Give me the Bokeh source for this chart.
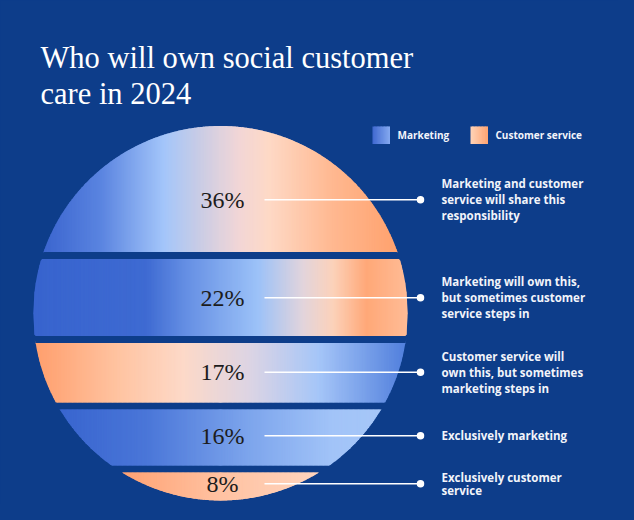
import numpy as np
from bokeh.plotting import figure
from bokeh.models import Range1d
from bokeh.embed import file_html
from bokeh.resources import INLINE
from bokeh.core.properties import value

# ---------------- data ----------------
title_lines = ["Who will own social customer", "care in 2024"]
shares = [36, 22, 17, 16, 8]
pct_labels = ["36%", "22%", "17%", "16%", "8%"]
descriptions = [
    ["Marketing and customer", "service will share this", "responsibility"],
    ["Marketing will own this,", "but sometimes customer", "service steps in"],
    ["Customer service will", "own this, but sometimes", "marketing steps in"],
    ["Exclusively marketing"],
    ["Exclusively customer", "service"],
]
legend_labels = ["Marketing", "Customer service"]

# ---------------- style ----------------
BG = "#0d3d8a"
WHITE = "#ffffff"
band_stops = [
    [(0.0, "#3660cc"), (0.18, "#5a84e0"), (0.35, "#a4c6fa"), (0.44, "#c8cce6"),
     (0.55, "#f2d6d6"), (0.63, "#fed9c6"), (0.80, "#ffb890"), (1.0, "#ff9e68")],
    [(0.0, "#3864ce"), (0.30, "#3e6ad2"), (0.41, "#6690e4"), (0.60, "#9cc2f8"),
     (0.72, "#e2d4dc"), (0.80, "#fcd2ba"), (0.89, "#ffa878"), (1.0, "#ffbc96")],
    [(0.0, "#ff9e6c"), (0.23, "#ffc4a2"), (0.40, "#fdd9c8"), (0.58, "#dcd4e4"),
     (0.76, "#a6c6f8"), (1.0, "#4f7edc")],
    [(0.0, "#3360cc"), (0.30, "#4a76d8"), (0.57, "#7ca4ec"), (0.80, "#a2c4f8"),
     (1.0, "#a8c8f8")],
    [(0.0, "#ff9a68"), (0.22, "#ffa070"), (0.50, "#ffc2a2"), (0.78, "#ffd6c0"),
     (1.0, "#ffdcc8")],
]
legend_stops = [
    [(0.0, "#3f68d0"), (1.0, "#86aaf0")],
    [(0.0, "#ffd4b8"), (1.0, "#ffa472")],
]


def hex2rgb(h):
    h = h.lstrip("#")
    return np.array([int(h[i:i + 2], 16) for i in (0, 2, 4)], dtype=float)


def grad(stops, t):
    t = min(max(t, 0.0), 1.0)
    for (t0, c0), (t1, c1) in zip(stops[:-1], stops[1:]):
        if t <= t1:
            f = 0 if t1 == t0 else (t - t0) / (t1 - t0)
            c = hex2rgb(c0) * (1 - f) + hex2rgb(c1) * f
            return "#%02x%02x%02x" % tuple(int(round(v)) for v in c)
    return stops[-1][1]


# ---------------- geometry ----------------
S = 3.5          # px per percentage point
GAP = 2.0        # gap between bands, in percentage points
OX, OY = 220.0, 500.0   # page px of circle bottom centre


def X(px):
    return (px - OX) / S


def Y(py):
    return (OY - py) / S


total = sum(shares) + GAP * (len(shares) - 1)
R = total / 2.0
cy = R

bands = []
top = total
for s in shares:
    bands.append((top - s, top))
    top = top - s - GAP

p = figure(width=618, height=504, output_backend="svg", toolbar_location=None,
           x_range=Range1d(X(0), X(618)), y_range=Range1d(Y(504), Y(0)),
           x_axis_type=None, y_axis_type=None, min_border=0)
p.background_fill_color = BG
p.border_fill_color = BG
p.outline_line_color = None
p.grid.visible = False


def half(x):
    return np.sqrt(max(R * R - x * x, 0.0))


NSTRIP = 300
edges = np.linspace(-R, R, NSTRIP + 1)
dx = edges[1] - edges[0]
EPS = dx * 0.9
left_half, right_half = [], []
centroids = []
for (bb, bt), stops in zip(bands, band_stops):
    num = 0.0
    den = 0.0
    for x0, x1 in zip(edges[:-1], edges[1:]):
        t0, b0 = min(bt, cy + half(x0)), max(bb, cy - half(x0))
        t1, b1 = min(bt, cy + half(x1)), max(bb, cy - half(x1))
        if t0 <= b0 and t1 <= b1:
            continue
        if t0 < b0:
            t0 = b0 = (t0 + b0) / 2
        if t1 < b1:
            t1 = b1 = (t1 + b1) / 2
        xm = (x0 + x1) / 2
        col = grad(stops, (xm + R) / (2 * R))
        h = ((t0 - b0) + (t1 - b1)) / 2
        ym = ((t0 + b0) + (t1 + b1)) / 4
        num += h * ym
        den += h
        # extend each strip slightly toward the centre to hide seams
        if xm < 0:
            xe = min(x1 + EPS, 0.0 + EPS)
            left_half.append(([x0, x1, xe, xe, x1, x0], [b0, b1, b1, t1, t1, t0], col))
        else:
            xe = max(x0 - EPS, 0.0 - EPS)
            right_half.append(([xe, x0, x1, x1, x0, xe], [b0, b0, b1, t1, t0, t0], col))
    centroids.append(num / den)

strips = left_half + right_half[::-1]
p.patches(xs=[s[0] for s in strips], ys=[s[1] for s in strips],
          fill_color=[s[2] for s in strips], line_color=None)

# percentage labels
p.text(x=[X(222)] * len(shares), y=centroids, text=pct_labels,
       text_font=value("Liberation Serif"), text_font_size="24px",
       text_align="center", text_baseline="middle", text_color="#1c1c1c")

# connectors
p.segment(x0=[X(264)] * len(shares), x1=[X(420)] * len(shares),
          y0=centroids, y1=centroids, line_color=WHITE, line_width=1.6)
p.scatter(x=[X(420)] * len(shares), y=centroids, size=7.5,
          fill_color=WHITE, line_color=None)

# descriptions
tx, ty, tt = [], [], []
for yc, lines in zip(centroids, descriptions):
    n = len(lines)
    step = 16.0 if n > 2 else 13.0
    for i, ln in enumerate(lines):
        off = (i - (n - 1) / 2) * step
        tx.append(X(441))
        ty.append(yc - off / S)
        tt.append(ln)
p.text(x=tx, y=ty, text=tt, text_font=value("Open Sans"), text_font_style="bold",
       text_font_size="11.5px", text_align="left", text_baseline="middle",
       text_color="#f2f4fa")

# title
p.text(x=[X(40)] * 2, y=[Y(57), Y(93)], text=title_lines,
       text_font=value("Liberation Serif"), text_font_size="30.5px",
       text_align="left", text_baseline="alphabetic", text_color=WHITE)

# legend
sw_left = [372, 470]
txt_left = [397, 495]
lx, ly, lcol = [], [], []
for sl, stops in zip(sw_left, legend_stops):
    n = 12
    w = 17.5 / n
    for i in range(n):
        a = sl + i * w
        lx.append([X(a), X(a + w + 0.8), X(a + w + 0.8), X(a)] if i < n - 1
                  else [X(a), X(a + w), X(a + w), X(a)])
        ly.append([Y(143.5), Y(143.5), Y(126), Y(126)])
        lcol.append(grad(stops, (i + 0.5) / n))
p.patches(xs=lx, ys=ly, fill_color=lcol, line_color=None)
p.text(x=[X(t) for t in txt_left], y=[Y(134.5)] * 2, text=legend_labels,
       text_font=value("Open Sans"), text_font_style="bold", text_font_size="10px",
       text_align="left", text_baseline="middle", text_color="#f2f4fa")

html = file_html(p, INLINE)
html = html.replace("</head>", "<style>html,body{background:%s;}</style></head>" % BG, 1)
open("out.html", "w").write(html)
